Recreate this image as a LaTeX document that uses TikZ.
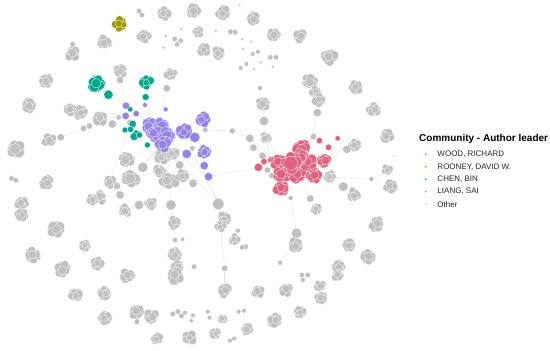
\documentclass[tikz,border=0pt]{standalone}
\usepackage{fontspec}
\setmainfont{Liberation Sans}
\definecolor{cg}{RGB}{192,192,192}
\definecolor{cpink}{RGB}{227,97,127}
\definecolor{colive}{RGB}{155,155,0}
\definecolor{cteal}{RGB}{0,168,140}
\definecolor{cpurple}{RGB}{150,130,234}
\definecolor{cedge}{RGB}{226,226,226}
\tikzset{dotw/.style={draw=white, line width=0.3pt},
  edge/.style={draw=cedge, line width=0.4pt},
  legtext/.style={anchor=west, font=\fontsize{8}{9}\selectfont, text=black!85, inner sep=0pt}}
\newcommand\clu[4]{%
  \begin{scope}[shift={(#1,#2)}, scale=#3, rotate={mod(#1+2*#2,60)}]
    \foreach \a/\b in {-2.8/2.1,2.8/2.1,-2.8/-2.1,2.8/-2.1,0/3.5,0/-3.5,-3.6/0,3.6/0,0/0}{
      \pgfmathsetmacro\ja{\a+1.1*rand}\pgfmathsetmacro\jb{\b+1.1*rand}\pgfmathsetmacro\rr{3.8+0.5*rand}
      \filldraw[fill=#4, dotw] (\ja pt,\jb pt) circle[radius=\rr pt];}
  \end{scope}}
\newcommand\dotc[4]{\filldraw[fill=#4, dotw] (#1,#2) circle[radius=#3pt];}
\begin{document}
\begin{tikzpicture}[x=0.351pt, y=-0.33333pt]
\pgfmathsetseed{7}
\useasboundingbox (0,0) rectangle (1567,1053);
% ---------- edges ----------
\foreach \xa/\ya/\xb/\yb in {275/252/309/284, 309/284/359/317, 342/240/359/317, 475/265/455/380,
  417/246/415/291, 415/291/440/385, 173/412/238/385, 238/385/255/378, 255/378/285/357,
  285/357/358/348, 230/338/358/341, 320/372/420/390, 585/390/662/393, 662/393/712/415,
  712/415/785/480, 594/530/736/502, 622/612/594/530, 622/612/550/460, 622/612/640/805,
  640/805/640/870, 487/615/478/543, 497/668/487/615, 499/720/497/668, 499/720/498/762,
  752/363/748/312, 752/363/770/480, 741/264/748/312, 904/338/880/440, 908/300/880/245,
  828/594/845/700, 884/596/900/627, 884/596/870/560, 940/532/1058/537, 1058/537/1103/515,
  978/560/940/532, 1010/435/930/470, 845/700/842/735, 798/788/835/745, 430/612/478/543,
  356/632/396/615, 396/615/430/612, 266/595/342/585, 342/585/333/558, 470/420/360/478,
  470/420/407/502, 470/420/532/462, 470/420/520/527, 470/420/550/550, 470/420/372/535,
  465/432/594/530, 465/432/622/612, 455/392/585/390, 757/413/800/480, 722/443/790/490,
  748/468/800/490, 893/410/860/445, 342/585/356/632, 420/435/455/515,
  375/372/312/545, 455/515/372/535, 532/462/500/550, 388/341/440/385}
  \draw[edge] (\xa,\ya) -- (\xb,\yb);
% ---------- outer gray ring ----------
\dotc{396}{33}{2.8}{cg}\dotc{404}{45}{2.8}{cg}
\clu{468}{42}{1}{cg}\clu{550}{33}{1}{cg}\clu{635}{38}{1}{cg}\clu{722}{55}{1}{cg}
\dotc{683}{15}{1.4}{cg}
\clu{410}{108}{1}{cg}\clu{297}{127}{1}{cg}
\clu{207}{162}{1.05}{cg}\dotc{207}{133}{2.8}{cg}
\clu{130}{243}{1}{cg}\clu{82}{317}{1}{cg}\clu{44}{447}{1.3}{cg}
\dotc{33}{535}{2.8}{cg}\dotc{45}{541}{2.8}{cg}
\clu{132}{548}{1}{cg}\clu{62}{608}{0.95}{cg}\clu{62}{645}{0.95}{cg}
\clu{160}{688}{1.2}{cg}\clu{95}{765}{1.05}{cg}\clu{178}{808}{1.15}{cg}
\clu{242}{738}{0.8}{cg}\clu{278}{792}{0.95}{cg}\clu{362}{827}{1}{cg}
\clu{215}{885}{0.95}{cg}\clu{298}{880}{0.95}{cg}\clu{300}{955}{1}{cg}
\clu{388}{935}{1}{cg}\clu{432}{950}{1}{cg}\dotc{390}{965}{2.8}{cg}
\clu{447}{1015}{0.85}{cg}\clu{540}{1013}{0.95}{cg}
\dotc{492}{942}{2.8}{cg}\dotc{507}{935}{2.8}{cg}\dotc{517}{948}{2.8}{cg}\dotc{527}{938}{2.4}{cg}
\dotc{550}{946}{2.4}{cg}\dotc{545}{962}{2.2}{cg}
\dotc{592}{935}{2.4}{cg}\dotc{597}{953}{2.4}{cg}\clu{635}{957}{0.7}{cg}
\dotc{655}{1022}{2.4}{cg}\dotc{667}{1016}{2.4}{cg}
\clu{613}{1000}{0.85}{cg}\clu{703}{987}{0.85}{cg}
\dotc{680}{935}{2.4}{cg}\dotc{695}{932}{2.4}{cg}
\clu{736}{875}{0.95}{cg}\clu{783}{960}{1.05}{cg}\clu{815}{870}{0.95}{cg}\clu{855}{935}{0.85}{cg}
\dotc{860}{825}{2.7}{cg}\dotc{877}{825}{2.7}{cg}\dotc{863}{840}{2.5}{cg}
\clu{912}{858}{0.85}{cg}\clu{915}{893}{0.9}{cg}
\clu{965}{800}{0.9}{cg}\clu{962}{826}{0.8}{cg}
\clu{1048}{770}{1}{cg}\clu{995}{735}{0.95}{cg}\clu{1072}{672}{1}{cg}
\clu{1103}{510}{0.8}{cg}\clu{1113}{560}{0.95}{cg}\clu{1102}{408}{0.95}{cg}
\dotc{1122}{467}{1.4}{cg}
\clu{1065}{330}{0.95}{cg}\clu{1015}{262}{0.95}{cg}\clu{938}{170}{1.15}{cg}
\clu{855}{110}{1}{cg}\clu{778}{105}{1}{cg}
\dotc{770}{172}{2.7}{cg}\dotc{786}{172}{2.7}{cg}
\dotc{690}{118}{1.7}{cg}\dotc{716}{125}{1.7}{cg}\dotc{692}{147}{1.7}{cg}\dotc{720}{162}{2.4}{cg}
\dotc{735}{155}{2.4}{cg}\dotc{743}{187}{1.7}{cg}\dotc{686}{204}{2.4}{cg}\dotc{724}{207}{1.7}{cg}
\dotc{778}{200}{1.7}{cg}\dotc{702}{192}{2.4}{cg}
\dotc{657}{95}{2.8}{cg}\dotc{670}{97}{2.8}{cg}
\dotc{615}{92}{1.7}{cg}\dotc{517}{87}{1.7}{cg}\dotc{472}{108}{1.7}{cg}\dotc{466}{143}{1.7}{cg}
\dotc{498}{117}{2.7}{cg}\dotc{515}{122}{2.7}{cg}\dotc{505}{133}{2.7}{cg}
\clu{565}{95}{0.75}{cg}\clu{580}{150}{0.95}{cg}\clu{622}{160}{0.95}{cg}
% ---------- inner gray ----------
\clu{342}{212}{0.95}{cg}\dotc{342}{240}{3.7}{cg}
\clu{486}{222}{0.9}{cg}\dotc{475}{265}{3.7}{cg}
\clu{880}{245}{1.1}{cg}\clu{898}{275}{0.8}{cg}\clu{908}{300}{0.95}{cg}\dotc{904}{338}{4.2}{cg}
\dotc{741}{264}{2.5}{cg}\clu{748}{312}{1}{cg}\dotc{752}{363}{4.7}{cg}
\dotc{662}{393}{3}{cg}\dotc{712}{415}{4.2}{cg}\clu{757}{413}{0.8}{cg}\dotc{722}{443}{3.7}{cg}\dotc{748}{468}{3.7}{cg}
\dotc{893}{410}{3.2}{cg}
\clu{1010}{435}{0.95}{cg}\dotc{988}{448}{4.2}{cg}
\clu{940}{532}{0.9}{cg}\dotc{978}{560}{4.8}{cg}\clu{1007}{585}{1}{cg}\dotc{1058}{537}{2.5}{cg}
\dotc{762}{510}{3.2}{cg}\dotc{775}{527}{3.2}{cg}
\dotc{828}{594}{2.5}{cg}\dotc{884}{596}{3.7}{cg}\clu{900}{627}{0.8}{cg}
\dotc{845}{700}{5.2}{cg}\clu{842}{735}{1.1}{cg}\dotc{798}{788}{2.5}{cg}
\clu{140}{422}{1}{cg}\dotc{173}{412}{3.7}{cg}
\dotc{238}{385}{3.2}{cg}\dotc{255}{378}{3.2}{cg}\clu{285}{357}{1.05}{cg}\dotc{320}{372}{4.2}{cg}\dotc{338}{352}{2.7}{cg}
\clu{200}{330}{0.9}{cg}\clu{230}{338}{1}{cg}
\dotc{370}{368}{3.2}{cg}
\clu{360}{478}{1.1}{cg}\dotc{407}{502}{5.2}{cg}\clu{372}{535}{1.3}{cg}\dotc{333}{558}{3.7}{cg}
\clu{312}{545}{0.9}{cg}\dotc{342}{585}{4.2}{cg}\clu{282}{592}{1}{cg}\clu{262}{600}{0.8}{cg}
\clu{356}{632}{0.9}{cg}\dotc{396}{615}{4.7}{cg}\clu{430}{612}{0.85}{cg}
\clu{460}{472}{1}{cg}\clu{492}{462}{0.95}{cg}\clu{455}{515}{1}{cg}\clu{478}{543}{1.25}{cg}
\clu{520}{527}{1}{cg}\dotc{500}{550}{4.2}{cg}\dotc{550}{550}{4.2}{cg}\dotc{512}{495}{4.2}{cg}
\dotc{487}{615}{5.2}{cg}\clu{497}{668}{0.9}{cg}\dotc{499}{720}{2.7}{cg}\dotc{520}{718}{2.2}{cg}
\clu{498}{762}{1}{cg}\clu{505}{800}{1}{cg}\clu{500}{828}{1.2}{cg}\dotc{553}{800}{2.7}{cg}
\dotc{622}{612}{5.7}{cg}\clu{640}{655}{1.05}{cg}\clu{628}{680}{0.85}{cg}\clu{668}{718}{0.75}{cg}
\dotc{678}{692}{2.5}{cg}\dotc{700}{740}{2.7}{cg}\dotc{690}{742}{2.7}{cg}
\dotc{640}{805}{3.2}{cg}\clu{640}{870}{1}{cg}
\dotc{548}{445}{2.7}{cg}\dotc{585}{390}{2.7}{cg}
% ---------- olive ----------
\clu{340}{72}{0.95}{colive}
% ---------- teal ----------
\clu{275}{252}{1.2}{cteal}\dotc{309}{284}{4.7}{cteal}
\clu{417}{246}{0.95}{cteal}\dotc{415}{291}{3.5}{cteal}
\dotc{371}{328}{2.7}{cteal}
\dotc{378}{372}{3.7}{cteal}\dotc{372}{388}{3.2}{cteal}\dotc{356}{390}{3}{cteal}
\dotc{388}{402}{4}{cteal}\dotc{382}{410}{4}{cteal}\dotc{397}{405}{3.2}{cteal}
\dotc{420}{435}{3}{cteal}
% ---------- purple ----------
\dotc{359}{317}{3.7}{cpurple}\dotc{358}{348}{3.7}{cpurple}\dotc{388}{341}{3.2}{cpurple}
\dotc{413}{315}{2.4}{cpurple}\dotc{472}{328}{2.5}{cpurple}
\clu{425}{378}{1.1}{cpurple}\clu{460}{378}{1.2}{cpurple}\clu{440}{400}{1.2}{cpurple}
\clu{475}{408}{1.2}{cpurple}\clu{465}{432}{1.1}{cpurple}
\clu{525}{395}{1.1}{cpurple}\dotc{555}{412}{5.2}{cpurple}\clu{577}{358}{1}{cpurple}
\dotc{532}{462}{4.7}{cpurple}\clu{580}{456}{0.9}{cpurple}\dotc{582}{497}{4.2}{cpurple}\dotc{594}{530}{4.2}{cpurple}
% ---------- pink ----------
\dotc{736}{502}{4.2}{cpink}\dotc{752}{485}{3.2}{cpink}\dotc{772}{480}{3.4}{cpink}
\clu{860}{445}{1.3}{cpink}\clu{795}{485}{1.2}{cpink}\clu{805}{522}{1.3}{cpink}
\clu{848}{522}{1.3}{cpink}\clu{878}{490}{1.2}{cpink}\clu{895}{527}{1.1}{cpink}
\clu{925}{482}{1}{cpink}\clu{800}{565}{1.1}{cpink}\clu{855}{472}{1.2}{cpink}
\clu{828}{490}{1.4}{cpink}\dotc{828}{490}{7}{cpink}
\dotc{910}{422}{3.2}{cpink}\dotc{936}{442}{3.2}{cpink}\dotc{962}{415}{2.7}{cpink}
% ---------- legend ----------
\node[anchor=west, inner sep=0pt, font=\fontsize{10}{12}\selectfont\bfseries] (lt) at (419pt,-139pt) {Community - Author leader};
\foreach \yy/\cc/\lab in {154.3/cpink/{WOOD, RICHARD}, 166.8/colive/{ROONEY, DAVID W.}, 179.2/cteal/{CHEN, BIN}, 191.7/cpurple/{LIANG, SAI}, 204.2/cg/Other}{
  \fill[\cc] (425.7pt,-\yy pt) circle[radius=0.9pt];
  \node[legtext] at (437.3pt,-\yy pt) {\lab};
}
\end{tikzpicture}
\end{document}
